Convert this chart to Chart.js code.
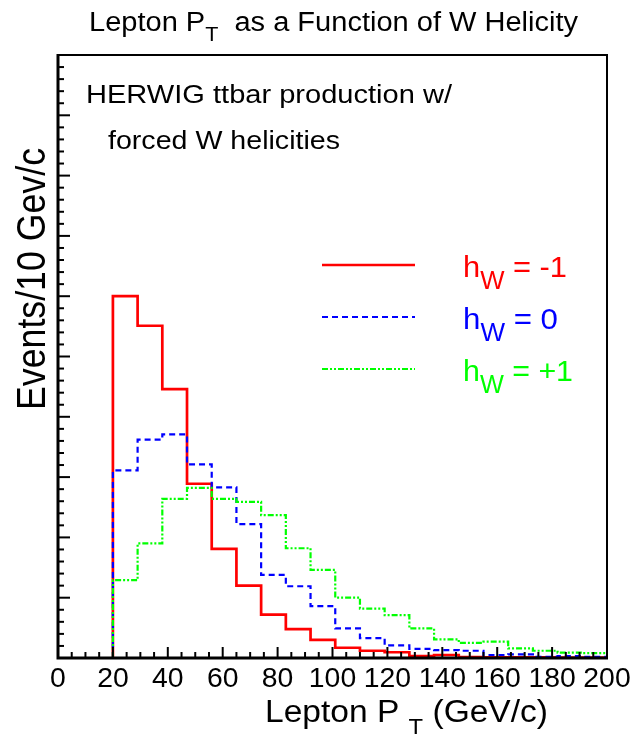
<!DOCTYPE html>
<html>
<head>
<meta charset="utf-8">
<script src="https://cdn.jsdelivr.net/npm/chart.js@4.4.1/dist/chart.umd.min.js"></script>
<style>
  body{margin:0;background:#fff;}
  canvas{display:block;}
</style>
</head>
<body>
<canvas id="ptChart" width="632" height="735"></canvas>
<script>
// bin edges (GeV/c) and bin contents (axis 0..10, no labels)
const binEdges=[20,29,38,47,56,65,74,83,92,101,110,119,128,137,146,155,164,173,182,191,200];
const hMinus=[6.00,5.51,4.46,2.89,1.81,1.20,0.72,0.48,0.30,0.17,0.12,0.095,0.03,0.05,0.015,0.01,0.01,0.01,0.005,0.005];
const hZero=[3.11,3.62,3.71,3.21,2.83,2.22,1.38,1.19,0.86,0.49,0.33,0.21,0.15,0.13,0.12,0.05,0.06,0.02,0.03,0.02];
const hPlus=[1.29,1.90,2.64,2.82,2.64,2.59,2.37,1.82,1.46,1.00,0.82,0.71,0.49,0.31,0.25,0.27,0.16,0.12,0.09,0.08];

const xTickValues=[0,20,40,60,80,100,120,140,160,180,200];
const xTickLabels=['0','20','40','60','80','100','120','140','160','180','200'];

const FONT='"Liberation Sans", Arial, Helvetica, sans-serif';

function histPoints(vals){
    const pts=[{x:binEdges[0],y:0}];
    vals.forEach((v,i)=>pts.push({x:binEdges[i],y:v}));
    pts.push({x:binEdges[binEdges.length-1],y:vals[vals.length-1]});
    return pts;
}

// draws text pieces (with sub-scripts) starting at x, squeezed/stretched to a given width
function drawParts(ctx,parts,x,y,width,color){
    let natural=0;
    parts.forEach(p=>{ctx.font=p[1]+'px '+FONT;natural+=ctx.measureText(p[0]).width;});
    const sx=width?width/natural:1;
    ctx.save();
    ctx.translate(x,y);
    ctx.scale(sx,1);
    ctx.fillStyle=color||'#000';
    ctx.textBaseline='alphabetic';
    ctx.textAlign='left';
    let cx=0;
    parts.forEach(p=>{
        ctx.font=p[1]+'px '+FONT;
        ctx.fillText(p[0],cx,p[2]||0);
        cx+=ctx.measureText(p[0]).width;
    });
    ctx.restore();
}

const legendItems=[
    {color:'#ff0000',dash:[],width:2.5,y:265,label:'= -1',labelW:104},
    {color:'#0000ff',dash:[6,4],width:2.2,y:317,label:'= 0',labelW:95},
    {color:'#00ff00',dash:[6,2,2,2,2,2],width:2.2,y:369,label:'= +1',labelW:110}
];

const framePlugin={
    id:'frame',
    afterDraw(chart){
        const ctx=chart.ctx;
        const a=chart.chartArea;
        const xs=chart.scales.x, ys=chart.scales.y;
        ctx.save();
        ctx.strokeStyle='#000';
        // frame
        ctx.lineWidth=2;
        ctx.beginPath();
        ctx.moveTo(a.left,a.top);ctx.lineTo(a.right,a.top);ctx.lineTo(a.right,a.bottom);
        ctx.stroke();
        ctx.lineWidth=3;
        ctx.beginPath();
        ctx.moveTo(a.left,a.top-1);ctx.lineTo(a.left,a.bottom);ctx.lineTo(a.right+1,a.bottom);
        ctx.stroke();
        // x ticks (inside)
        ctx.lineWidth=2;
        for(let v=0;v<=200;v+=5){
            const px=xs.getPixelForValue(v);
            const len=(v%20===0)?11:6;
            ctx.beginPath();ctx.moveTo(px,a.bottom);ctx.lineTo(px,a.bottom-len);ctx.stroke();
        }
        // y ticks (inside)
        for(let i=0;i<=50;i++){
            const py=ys.getPixelForValue(i/5);
            const len=(i%5===0)?12:6;
            ctx.beginPath();ctx.moveTo(a.left,py);ctx.lineTo(a.left+len,py);ctx.stroke();
        }
        // x tick labels
        ctx.fillStyle='#000';
        xTickValues.forEach((v,i)=>{
            const px=xs.getPixelForValue(v);
            ctx.font='27px '+FONT;
            const w=ctx.measureText(xTickLabels[i]).width*1.05;
            drawParts(ctx,[[xTickLabels[i],27,0]],px-w/2,687,w);
        });
        // titles
        drawParts(ctx,[['Lepton P',27,0],['T',20,10],['  as a Function of W Helicity',27,0]],89,31,489);
        drawParts(ctx,[['Lepton P ',31,0],['T',22,12],[' (GeV/c)',31,0]],265,722,283);
        ctx.save();
        ctx.translate(45,410);
        ctx.rotate(-Math.PI/2);
        drawParts(ctx,[['Events/10 Gev/c',40,0]],0,0,262);
        ctx.restore();
        // caption
        drawParts(ctx,[['HERWIG ttbar production w/',26,0]],86,103,366);
        drawParts(ctx,[['forced W helicities',26,0]],108,149,232);
        // legend
        legendItems.forEach(it=>{
            ctx.save();
            ctx.strokeStyle=it.color;
            ctx.lineWidth=it.width;
            ctx.setLineDash(it.dash);
            ctx.beginPath();ctx.moveTo(322,it.y);ctx.lineTo(415,it.y);ctx.stroke();
            ctx.restore();
            drawParts(ctx,[['h',30,0],['W',25,12],[' '+it.label,30,0]],463,it.y+12,it.labelW,it.color);
        });
        ctx.restore();
    }
};

const ctx=document.getElementById('ptChart').getContext('2d');
const chart=new Chart(ctx,{
    type:'line',
    data:{
        datasets:[
            {label:'h_W = -1',data:histPoints(hMinus),borderColor:'#ff0000',borderWidth:2.7,order:3},
            {label:'h_W = 0',data:histPoints(hZero),borderColor:'#0000ff',borderWidth:2.2,borderDash:[6,4],order:2},
            {label:'h_W = +1',data:histPoints(hPlus),borderColor:'#00ff00',borderWidth:2.2,borderDash:[6,2,2,2,2,2],order:1}
        ]
    },
    options:{
        responsive:false,
        animation:false,
        devicePixelRatio:1,
        layout:{padding:{left:58,right:25,top:55,bottom:77}},
        elements:{
            point:{radius:0},
            line:{stepped:'before',tension:0,fill:false}
        },
        scales:{
            x:{type:'linear',min:0,max:200,display:false},
            y:{type:'linear',min:0,max:10,display:false}
        },
        plugins:{
            legend:{display:false},
            title:{display:false},
            tooltip:{enabled:false}
        }
    },
    plugins:[framePlugin]
});
</script>
</body>
</html>
